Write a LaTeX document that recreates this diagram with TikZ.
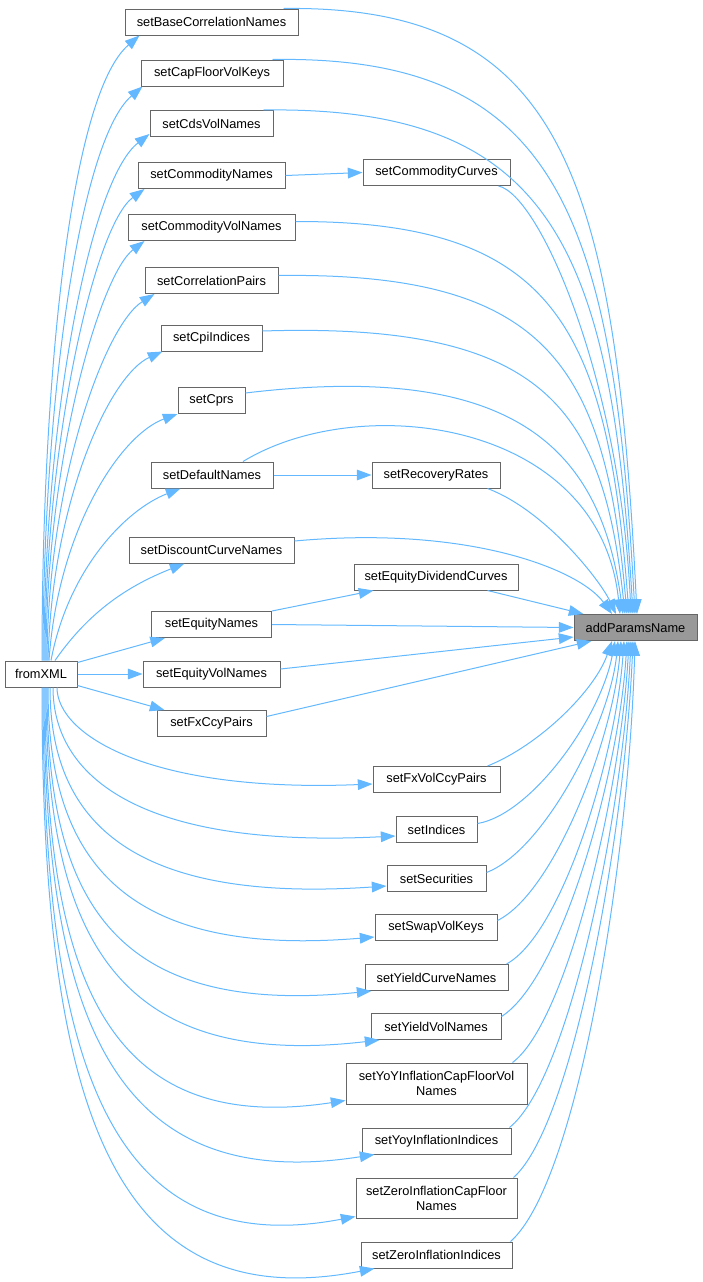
\documentclass[tikz,border=0pt]{standalone}
\usepackage{fontspec}
\setmainfont{Liberation Sans}
\usetikzlibrary{arrows.meta,calc}
\definecolor{edgec}{HTML}{63B8FF}
\definecolor{boxc}{HTML}{666666}
\definecolor{hlc}{HTML}{999999}
\begin{document}
\begin{tikzpicture}[x=0.75pt,y=-0.75pt,
 fn/.style={draw=boxc, line width=0.75pt, fill=white, inner sep=0pt, minimum height=19.5pt, minimum width=#1*0.75pt, font=\fontsize{9.6pt}{11.25pt}\selectfont, align=center},
 edge/.style={draw=edgec, line width=0.75pt, -{Triangle[length=11pt,width=8pt]}}]
\useasboundingbox (0,0) rectangle (703,1282);
% nodes
\node[fn=173] (BCN) at (211.5,22) {setBaseCorrelationNames};
\node[fn=142] (CFV) at (212,73) {setCapFloorVolKeys};
\node[fn=123] (CDS) at (211.5,123.5) {setCdsVolNames};
\node[fn=147] (CN) at (211.5,175.5) {setCommodityNames};
\node[fn=147] (CC) at (436.5,172.5) {setCommodityCurves};
\node[fn=167] (CVN) at (211.5,227.5) {setCommodityVolNames};
\node[fn=133] (CP) at (211.5,280.5) {setCorrelationPairs};
\node[fn=101] (CPI) at (211.5,338) {setCpiIndices};
\node[fn=67] (CPR) at (211.5,400.5) {setCprs};
\node[fn=122] (DN) at (212,475) {setDefaultNames};
\node[fn=128] (RR) at (436,475) {setRecoveryRates};
\node[fn=165] (DCN) at (211.5,550) {setDiscountCurveNames};
\node[fn=164] (EDC) at (436,577) {setEquityDividendCurves};
\node[fn=123, fill=hlc] (APN) at (635.5,627.5) {addParamsName};
\node[fn=120] (EN) at (211.5,624.5) {setEquityNames};
\node[fn=72] (FX) at (41,674) {fromXML};
\node[fn=137] (EVN) at (211.5,674) {setEquityVolNames};
\node[fn=109] (FCP) at (211.5,723.5) {setFxCcyPairs};
\node[fn=127] (FVC) at (436.5,779.5) {setFxVolCcyPairs};
\node[fn=81] (IND) at (436.5,829.5) {setIndices};
\node[fn=99] (SEC) at (436.5,878.5) {setSecurities};
\node[fn=122] (SVK) at (436,927.5) {setSwapVolKeys};
\node[fn=143] (YCN) at (436.5,977.5) {setYieldCurveNames};
\node[fn=130] (YVN) at (436,1026.5) {setYieldVolNames};
\node[fn=181, minimum height=30.75pt] (YOYC) at (436.5,1083.5) {setYoYInflationCapFloorVol\\Names};
\node[fn=149] (YII) at (436.5,1141) {setYoyInflationIndices};
\node[fn=161, minimum height=30pt] (ZICF) at (436.5,1198) {setZeroInflationCapFloor\\Names};
\node[fn=151] (ZII) at (436.5,1255) {setZeroInflationIndices};
% edges into addParamsName (top group)
\draw[edge] ($(BCN.north east)+(-15,0)$) .. controls (560,5) and (615,170) .. ($(APN.north)+(1.5,0)$);
\draw[edge] ($(CFV.north east)+(-11,0)$) .. controls (555,55) and (613,210) .. ($(APN.north)+(-0.5,0)$);
\draw[edge] ($(CDS.north east)+(-10,0)$) .. controls (552,106) and (611,247) .. ($(APN.north)+(-2.5,0)$);
\draw[edge] ($(CC.south east)+(-12,0)$) .. controls (540,195) and (620,380) .. ($(APN.north)+(-4.5,0)$);
\draw[edge] ($(CVN.east)+(0,-6)$) .. controls (555,221) and (607,327) .. ($(APN.north)+(-6.5,0)$);
\draw[edge] ($(CP.east)+(0,-5)$) .. controls (550,272) and (605,367) .. ($(APN.north)+(-8.5,0)$);
\draw[edge] ($(CPI.east)+(0,-7)$) .. controls (545,322) and (603,408) .. ($(APN.north)+(-10.5,0)$);
\draw[edge] ($(CPR.east)+(0,-7.5)$) .. controls (520,360) and (601,453) .. ($(APN.north)+(-12.5,0)$);
\draw[edge] ($(DN.north)+(31,0)$) .. controls (360,390) and (600,420) .. ($(APN.north)+(-15.5,0)$);
\draw[edge] ($(RR.south east)+(-13,0)$) .. controls (545,510) and (600,580) .. ($(APN.north)+(-19.5,0)$);
\draw[edge] ($(DCN.east)+(0,-9)$) .. controls (470,525) and (580,570) .. ($(APN.north)+(-23.5,0)$);
\draw[edge] ($(EDC.south east)+(-31,0)$) -- ($(APN.north west)+(10,0)$);
\draw[edge] (EN.east) -- (APN.west);
\draw[edge] ($(EVN.east)+(0,-5)$) -- ($(APN.south west)+(0,-4)$);
\draw[edge] ($(FCP.east)+(0,-7)$) -- ($(APN.south west)+(18,0)$);
% edges into addParamsName (bottom group)
\draw[edge] ($(FVC.north east)+(-13,0)$) .. controls (540,745) and (595,690) .. ($(APN.south)+(-23.5,0)$);
\draw[edge] ($(IND.east)+(0,-6)$) .. controls (530,815) and (600,720) .. ($(APN.south)+(-20.5,0)$);
\draw[edge] ($(SEC.east)+(0,-6)$) .. controls (545,850) and (610,722) .. ($(APN.south)+(-17.5,0)$);
\draw[edge] ($(SVK.east)+(0,-7)$) .. controls (555,892) and (613,738) .. ($(APN.south)+(-14.5,0)$);
\draw[edge] ($(YCN.north east)+(-2,0)$) .. controls (563,933) and (616,754) .. ($(APN.south)+(-11.5,0)$);
\draw[edge] ($(YVN.east)+(0,-10)$) .. controls (562,978) and (619,772) .. ($(APN.south)+(-8.5,0)$);
\draw[edge] ($(YOYC.north east)+(-15,0)$) .. controls (568,1021) and (621,788) .. ($(APN.south)+(-6.5,0)$);
\draw[edge] ($(YII.north east)+(-2,0)$) .. controls (570,1079) and (623,811) .. ($(APN.south)+(-4.5,0)$);
\draw[edge] ($(ZICF.north east)+(-4,0)$) .. controls (574,1124) and (625,829) .. ($(APN.south)+(-2.5,0)$);
\draw[edge] ($(ZII.north east)+(-2,0)$) .. controls (578,1182) and (629,860) .. ($(APN.south)+(-0.5,0)$);
% second-level edges
\draw[edge] (CN.east) -- (CC.west);
\draw[edge] (DN.east) -- (RR.west);
\draw[edge] (EN.north east) -- ($(EDC.south west)+(20,0)$);
% fromXML upward
\draw[edge] ($(FX.north)+(1,0)$) .. controls (42,380) and (70,95) .. ($(BCN.south west)+(15,0)$);
\draw[edge] ($(FX.north)+(2,0)$) .. controls (43,400) and (80,140) .. ($(CFV.south west)+(2,0)$);
\draw[edge] ($(FX.north)+(3,0)$) .. controls (44,420) and (90,180) .. ($(CDS.south west)+(0,-3)$);
\draw[edge] ($(FX.north)+(4,0)$) .. controls (45,440) and (95,225) .. ($(CN.south west)+(7,0)$);
\draw[edge] ($(FX.north)+(5,0)$) .. controls (46,460) and (100,275) .. ($(CVN.south west)+(17,0)$);
\draw[edge] ($(FX.north)+(6,0)$) .. controls (48,480) and (105,325) .. ($(CP.south west)+(10,0)$);
\draw[edge] ($(FX.north)+(7,0)$) .. controls (52,500) and (110,375) .. ($(CPI.south west)+(2,0)$);
\draw[edge] ($(FX.north)+(8,0)$) .. controls (58,530) and (120,435) .. ($(CPR.south west)$);
\draw[edge] ($(FX.north)+(10,0)$) .. controls (68,570) and (125,510) .. ($(DN.south west)+(30,0)$);
\draw[edge] ($(FX.north)+(14,0)$) .. controls (90,610) and (130,585) .. ($(DCN.south west)+(56,0)$);
% fromXML direct
\draw[edge] ($(FX.north east)+(0,2)$) -- ($(EN.south west)+(14,0)$);
\draw[edge] (FX.east) -- (EVN.west);
\draw[edge] ($(FX.south east)+(0,-2)$) -- ($(FCP.north west)+(8,0)$);
% fromXML downward
\draw[edge] ($(FX.south)+(16,0)$) .. controls (57,735) and (150,793) .. ($(FVC.west)+(0,4.5)$);
\draw[edge] ($(FX.south)+(12,0)$) .. controls (53,776) and (139,849) .. ($(IND.west)+(0,6.5)$);
\draw[edge] ($(FX.south)+(9,0)$) .. controls (50,816) and (124,904) .. ($(SEC.west)+(0,7.5)$);
\draw[edge] ($(FX.south)+(7,0)$) .. controls (48,850) and (113,959) .. ($(SVK.west)+(0,9.5)$);
\draw[edge] ($(FX.south)+(6,0)$) .. controls (47,899) and (112,1017) .. ($(YCN.south west)+(7,0)$);
\draw[edge] ($(FX.south)+(5,0)$) .. controls (46,933) and (113,1071) .. ($(YVN.south west)+(9,0)$);
\draw[edge] ($(FX.south)+(4,0)$) .. controls (45,976) and (105,1137) .. ($(YOYC.south west)+(0,-4)$);
\draw[edge] ($(FX.south)+(3,0)$) .. controls (44,1014) and (110,1196) .. ($(YII.south west)+(13,0)$);
\draw[edge] ($(FX.south)+(2,0)$) .. controls (43,1057) and (106,1264) .. ($(ZICF.south west)+(0,-2)$);
\draw[edge] ($(FX.south)+(1,0)$) .. controls (42,1100) and (109,1320) .. ($(ZII.south west)+(14,0)$);
\end{tikzpicture}
\end{document}
